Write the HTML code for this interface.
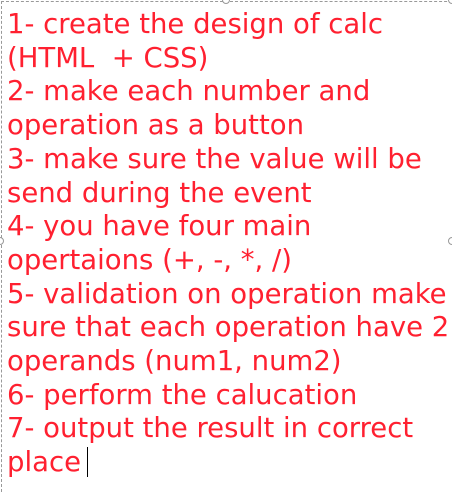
<!DOCTYPE html>
<html><head><meta charset="utf-8"><style>
html,body{margin:0;padding:0;background:#fff;width:452px;height:482px;overflow:hidden}
.box{position:absolute;left:1px;top:1px;width:460px;height:490px;border-left:1px dashed #999;border-top:1px dashed #999}
.t{position:absolute;left:7px;top:8px;font-family:"DejaVu Sans","Liberation Sans",sans-serif;font-size:27.5px;line-height:33.7px;color:#ff2030;white-space:pre;letter-spacing:0px}
.h{position:absolute;width:6px;height:6px;border:1px solid #999;border-radius:50%;background:#fff}
.caret{display:inline-block;width:1px;height:30px;background:#000;vertical-align:-6px;margin-left:6px}
</style></head><body>
<div class="box"></div>
<div class="h" style="left:222px;top:-4px"></div>
<div class="h" style="left:448px;top:237px"></div>
<div class="h" style="left:-4px;top:237px"></div>
<div class="h" style="left:448px;top:-4px"></div>
<div class="t">1- create the design of calc
(HTML  + CSS)
2- make each number and
operation as a button
3- make sure the value will be
send during the event
4- you have four main
opertaions (+, -, *, /)
5- validation on operation make
sure that each operation have 2
operands (num1, num2)
6- perform the calucation
7- output the result in correct
place<span class="caret"></span></div>
</body></html>
